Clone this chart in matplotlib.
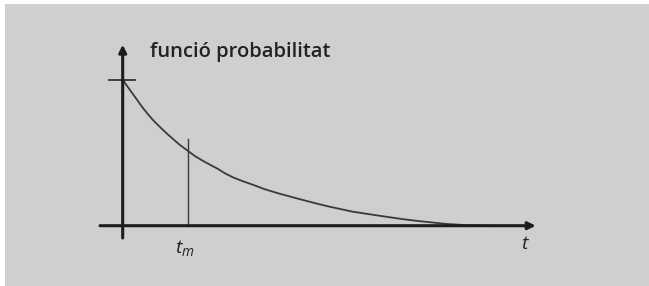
import matplotlib.pyplot as plt
from matplotlib.patches import Rectangle

plt.rcParams['mathtext.fontset'] = 'custom'
plt.rcParams['mathtext.it'] = 'Open Sans:italic'
plt.rcParams['mathtext.rm'] = 'Open Sans'

# curve (t in arbitrary units, p relative to p(0))
t_vals = [0, 0.05, 0.10, 0.15, 0.20, 0.25, 0.30, 0.35, 0.40, 0.45, 0.50, 0.57,
          0.65, 0.72, 0.80, 0.88, 0.95, 1.02, 1.10, 1.20, 1.30, 1.42, 1.57,
          1.77, 1.92, 2.07, 2.30, 2.57, 2.80, 2.97, 3.24, 3.48, 3.70]
p_vals = [1.0, 0.951, 0.904, 0.856, 0.808, 0.766, 0.726, 0.691, 0.658, 0.626, 0.596, 0.554,
          0.514, 0.478, 0.445, 0.415, 0.390, 0.360, 0.332, 0.305, 0.281, 0.250, 0.219,
          0.182, 0.155, 0.130, 0.096, 0.068, 0.045, 0.031, 0.012, 0.002, 0.0]
t_m = 0.65
p_tm = 0.594

ylabel = "funció probabilitat"
xlabel = "t"
tm_label = "$t_m$"

fig = plt.figure(figsize=(6.49, 2.86), dpi=100)
fig.patch.set_facecolor('white')
ax = fig.add_axes([0, 0, 1, 1])
ax.set_xlim(-1.227, 5.263)
ax.set_ylim(-0.413, 1.546)
ax.axis('off')

# gray panel
ax.add_patch(Rectangle((-1.177, -0.5), 7, 2.02, transform=ax.transData,
                       facecolor='#cfcfcf', edgecolor='none', zorder=0))

axis_col = '#1c1c1c'
# x axis with arrow
ax.annotate('', xy=(4.13, 0), xytext=(-0.227, 0),
            arrowprops=dict(arrowstyle='-|>', color=axis_col, lw=2.2,
                            mutation_scale=11, shrinkA=0, shrinkB=0))
# y axis with arrow
ax.annotate('', xy=(0, 1.24), xytext=(0, -0.084),
            arrowprops=dict(arrowstyle='-|>', color=axis_col, lw=2.2,
                            mutation_scale=11, shrinkA=0, shrinkB=0))

# tick at p(0)
ax.plot([-0.14, 0.12], [1.0, 1.0], color='#333333', lw=1.3)

# curve
ax.plot(t_vals, p_vals, color='#3a3a3a', lw=1.3,
        solid_capstyle='round', solid_joinstyle='round')

# t_m marker line
ax.plot([t_m, t_m], [0, p_tm], color='#3a3a3a', lw=1.0)

ax.text(0.273, 1.19, ylabel, fontsize=14.5, family='Open Sans', weight='semibold',
        color='#222222', ha='left', va='center')
ax.text(0.62, -0.15, tm_label, fontsize=14, color='#222222',
        ha='center', va='center')
ax.text(4.03, -0.12, '$' + xlabel + '$', fontsize=14, color='#222222',
        ha='center', va='center')

fig.savefig('out.png', dpi=100)
